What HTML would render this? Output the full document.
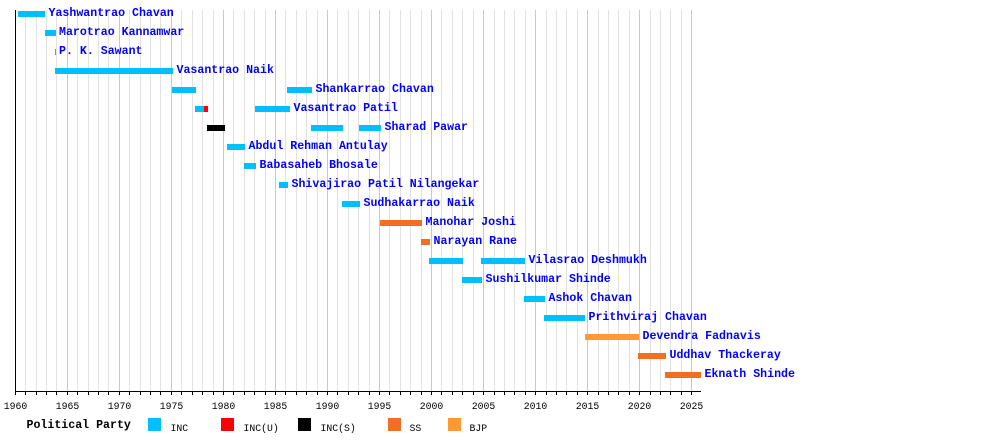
<!DOCTYPE html>
<html>
<head>
<meta charset="utf-8">
<style>
html,body{margin:0;padding:0;background:#fff;}
svg{display:block;}
.lbl{font-family:"Liberation Mono",monospace;font-weight:bold;font-size:11.6px;fill:#0000ff;}
.tk{font-family:"Liberation Mono",monospace;font-size:9.8px;fill:#000;}
.lg{font-family:"Liberation Mono",monospace;font-size:9.8px;fill:#000;}
.lgt{font-family:"Liberation Mono",monospace;font-weight:bold;font-size:11.6px;fill:#000;}
</style>
</head>
<body>
<svg width="1000" height="440" viewBox="0 0 1000 440" xmlns="http://www.w3.org/2000/svg" shape-rendering="crispEdges">
<rect width="1000" height="440" fill="#fff"/>
<!-- minor grid -->
<path stroke="#e2e2e2" stroke-width="1" fill="none" d="M25.5 10V391M36.5 10V391M46.5 10V391M56.5 10V391M77.5 10V391M88.5 10V391M98.5 10V391M108.5 10V391M129.5 10V391M140.5 10V391M150.5 10V391M160.5 10V391M181.5 10V391M192.5 10V391M202.5 10V391M213.5 10V391M233.5 10V391M244.5 10V391M254.5 10V391M265.5 10V391M285.5 10V391M296.5 10V391M306.5 10V391M317.5 10V391M337.5 10V391M348.5 10V391M358.5 10V391M369.5 10V391M389.5 10V391M400.5 10V391M410.5 10V391M421.5 10V391M441.5 10V391M452.5 10V391M462.5 10V391M473.5 10V391M494.5 10V391M504.5 10V391M514.5 10V391M525.5 10V391M546.5 10V391M556.5 10V391M566.5 10V391M577.5 10V391M598.5 10V391M608.5 10V391M618.5 10V391M629.5 10V391M650.5 10V391M660.5 10V391M670.5 10V391M681.5 10V391"/>
<!-- major grid -->
<path stroke="#c8c8c8" stroke-width="1" fill="none" d="M67.5 10V391M119.5 10V391M171.5 10V391M223.5 10V391M275.5 10V391M327.5 10V391M379.5 10V391M431.5 10V391M483.5 10V391M535.5 10V391M587.5 10V391M639.5 10V391M691.5 10V391"/>

<!-- bars -->
<g>
<!-- 0 Yashwantrao Chavan -->
<rect x="18" y="11" width="27" height="6" fill="#00bfff"/>
<!-- 1 Marotrao -->
<rect x="45" y="30" width="11" height="6" fill="#00bfff"/>
<!-- 2 PK Sawant -->
<rect x="55" y="49" width="1" height="6" fill="#00bfff"/>
<!-- 3 Vasantrao Naik -->
<rect x="55" y="68" width="118" height="6" fill="#00bfff"/>
<!-- 4 Shankarrao -->
<rect x="172" y="87" width="24" height="6" fill="#00bfff"/>
<rect x="287" y="87" width="25" height="6" fill="#00bfff"/>
<!-- 5 Vasantrao Patil -->
<rect x="195" y="106" width="9" height="6" fill="#00bfff"/>
<rect x="204" y="106" width="4" height="6" fill="#ff0000"/>
<rect x="255" y="106" width="35" height="6" fill="#00bfff"/>
<!-- 6 Sharad Pawar -->
<rect x="207" y="125" width="18" height="6" fill="#000000"/>
<rect x="311" y="125" width="32" height="6" fill="#00bfff"/>
<rect x="359" y="125" width="22" height="6" fill="#00bfff"/>
<!-- 7 Antulay -->
<rect x="227" y="144" width="18" height="6" fill="#00bfff"/>
<!-- 8 Bhosale -->
<rect x="244" y="163" width="12" height="6" fill="#00bfff"/>
<!-- 9 Nilangekar -->
<rect x="279" y="182" width="9" height="6" fill="#00bfff"/>
<!-- 10 Sudhakarrao -->
<rect x="342" y="201" width="18" height="6" fill="#00bfff"/>
<!-- 11 Manohar Joshi -->
<rect x="380" y="220" width="42" height="6" fill="#f26f21"/>
<!-- 12 Narayan Rane -->
<rect x="421" y="239" width="9" height="6" fill="#f26f21"/>
<!-- 13 Vilasrao -->
<rect x="429" y="258" width="34" height="6" fill="#00bfff"/>
<rect x="481" y="258" width="44" height="6" fill="#00bfff"/>
<!-- 14 Sushilkumar -->
<rect x="462" y="277" width="20" height="6" fill="#00bfff"/>
<!-- 15 Ashok Chavan -->
<rect x="524" y="296" width="21" height="6" fill="#00bfff"/>
<!-- 16 Prithviraj -->
<rect x="544" y="315" width="41" height="6" fill="#00bfff"/>
<!-- 17 Fadnavis -->
<rect x="585" y="334" width="54" height="6" fill="#ff9933"/>
<!-- 18 Uddhav -->
<rect x="638" y="353" width="28" height="6" fill="#f26f21"/>
<!-- 19 Eknath -->
<rect x="665" y="372" width="36" height="6" fill="#f26f21"/>
</g>

<!-- labels -->
<g class="lbl">
<text x="48.5" y="16">Yashwantrao Chavan</text>
<text x="59" y="35">Marotrao Kannamwar</text>
<text x="59" y="54">P. K. Sawant</text>
<text x="176.5" y="73">Vasantrao Naik</text>
<text x="315.5" y="92">Shankarrao Chavan</text>
<text x="293.5" y="111">Vasantrao Patil</text>
<text x="384.5" y="130">Sharad Pawar</text>
<text x="248.5" y="149">Abdul Rehman Antulay</text>
<text x="259.5" y="168">Babasaheb Bhosale</text>
<text x="291.5" y="187">Shivajirao Patil Nilangekar</text>
<text x="363.5" y="206">Sudhakarrao Naik</text>
<text x="425.5" y="225">Manohar Joshi</text>
<text x="433.5" y="244">Narayan Rane</text>
<text x="528.5" y="263">Vilasrao Deshmukh</text>
<text x="485.5" y="282">Sushilkumar Shinde</text>
<text x="548.5" y="301">Ashok Chavan</text>
<text x="588.5" y="320">Prithviraj Chavan</text>
<text x="642.5" y="339">Devendra Fadnavis</text>
<text x="669.5" y="358">Uddhav Thackeray</text>
<text x="704.5" y="377">Eknath Shinde</text>
</g>

<!-- axes -->
<path stroke="#000" stroke-width="1" fill="none" d="M15.5 10V395M15 391.5H701"/>
<path stroke="#000" stroke-width="1" fill="none" d="M25.5 391V395M36.5 391V395M46.5 391V395M56.5 391V395M67.5 391V395M77.5 391V395M88.5 391V395M98.5 391V395M108.5 391V395M119.5 391V395M129.5 391V395M140.5 391V395M150.5 391V395M160.5 391V395M171.5 391V395M181.5 391V395M192.5 391V395M202.5 391V395M213.5 391V395M223.5 391V395M233.5 391V395M244.5 391V395M254.5 391V395M265.5 391V395M275.5 391V395M285.5 391V395M296.5 391V395M306.5 391V395M317.5 391V395M327.5 391V395M337.5 391V395M348.5 391V395M358.5 391V395M369.5 391V395M379.5 391V395M389.5 391V395M400.5 391V395M410.5 391V395M421.5 391V395M431.5 391V395M441.5 391V395M452.5 391V395M462.5 391V395M473.5 391V395M483.5 391V395M494.5 391V395M504.5 391V395M514.5 391V395M525.5 391V395M535.5 391V395M546.5 391V395M556.5 391V395M566.5 391V395M577.5 391V395M587.5 391V395M598.5 391V395M608.5 391V395M618.5 391V395M629.5 391V395M639.5 391V395M650.5 391V395M660.5 391V395M670.5 391V395M681.5 391V395M691.5 391V395"/>

<g class="tk" text-anchor="middle">
<text x="15.5" y="409">1960</text>
<text x="67.5" y="409">1965</text>
<text x="119.5" y="409">1970</text>
<text x="171.5" y="409">1975</text>
<text x="223.5" y="409">1980</text>
<text x="275.5" y="409">1985</text>
<text x="327.5" y="409">1990</text>
<text x="379.5" y="409">1995</text>
<text x="431.5" y="409">2000</text>
<text x="483.5" y="409">2005</text>
<text x="535.5" y="409">2010</text>
<text x="587.5" y="409">2015</text>
<text x="639.5" y="409">2020</text>
<text x="691.5" y="409">2025</text>
</g>

<!-- legend -->
<text class="lgt" x="26.5" y="428">Political Party</text>
<rect x="148" y="418" width="13" height="13" fill="#00bfff"/>
<text class="lg" x="170.5" y="431">INC</text>
<rect x="221" y="418" width="13" height="13" fill="#ff0000"/>
<text class="lg" x="243.5" y="431">INC(U)</text>
<rect x="298" y="418" width="13" height="13" fill="#000000"/>
<text class="lg" x="320.5" y="431">INC(S)</text>
<rect x="388" y="418" width="13" height="13" fill="#f26f21"/>
<text class="lg" x="409.5" y="431">SS</text>
<rect x="448" y="418" width="13" height="13" fill="#ff9933"/>
<text class="lg" x="469.5" y="431">BJP</text>
</svg>
</body>
</html>
